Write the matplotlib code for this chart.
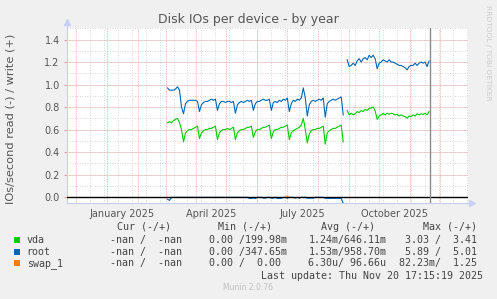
import numpy as np
import pandas as pd
import matplotlib
matplotlib.use("Agg")
import matplotlib.pyplot as plt

# ---- data (IOs/second, daily-ish samples) ----
seg1_start = "2025-03-03"
seg2_start = "2025-08-30"

root_write_1 = [
    0.97, 0.95, 0.95, 0.95, 0.96, 0.98, 0.95, 0.80, 0.74, 0.83,
    0.85, 0.86, 0.86, 0.86, 0.86, 0.85, 0.76, 0.82, 0.84, 0.85,
    0.85, 0.86, 0.87, 0.86, 0.87, 0.77, 0.83, 0.85, 0.85, 0.84,
    0.85, 0.85, 0.84, 0.85, 0.745, 0.82, 0.84, 0.85, 0.84, 0.85,
    0.86, 0.85, 0.86, 0.77, 0.83, 0.85, 0.85, 0.86, 0.87, 0.86,
    0.86, 0.87, 0.77, 0.84, 0.85, 0.84, 0.86, 0.85, 0.87, 0.86,
    0.88, 0.76, 0.83, 0.86, 0.85, 0.87, 0.86, 0.88, 0.97, 0.88,
    0.72, 0.82, 0.85, 0.86, 0.85, 0.86, 0.87, 0.86, 0.88, 0.71,
    0.83, 0.85, 0.86, 0.87, 0.86, 0.87, 0.88, 0.89, 0.73,
]
vda_write_1 = [
    0.66, 0.67, 0.66, 0.68, 0.69, 0.70, 0.66, 0.60, 0.49, 0.57,
    0.59, 0.60, 0.60, 0.61, 0.62, 0.63, 0.52, 0.57, 0.59, 0.60,
    0.60, 0.61, 0.61, 0.62, 0.63, 0.51, 0.57, 0.59, 0.60, 0.60,
    0.61, 0.60, 0.61, 0.62, 0.51, 0.57, 0.59, 0.60, 0.60, 0.61,
    0.62, 0.62, 0.63, 0.53, 0.58, 0.60, 0.60, 0.61, 0.62, 0.62,
    0.63, 0.64, 0.52, 0.58, 0.60, 0.60, 0.61, 0.62, 0.62, 0.63,
    0.64, 0.51, 0.57, 0.59, 0.60, 0.61, 0.62, 0.64, 0.70, 0.60,
    0.48, 0.56, 0.59, 0.60, 0.60, 0.61, 0.61, 0.62, 0.63, 0.47,
    0.57, 0.59, 0.60, 0.61, 0.61, 0.62, 0.63, 0.64, 0.49,
]
root_read_1 = [
    0.02, 0.03, 0.004, 0.003, 0.003, 0.003, 0.003, 0.003, 0.003, 0.003,
    0.003, 0.003, 0.003, 0.003, 0.003, 0.003, 0.003, 0.003, 0.003, 0.003,
    0.003, 0.003, 0.003, 0.003, 0.003, 0.003, 0.003, 0.003, 0.003, 0.003,
    0.003, 0.003, 0.003, 0.003, 0.003, 0.003, 0.003, 0.003, 0.003, 0.003,
    0.003, 0.012, 0.012, 0.010, 0.012, 0.003, 0.003, 0.003, 0.010, 0.010,
    0.003, 0.003, 0.010, 0.010, 0.003, 0.012, 0.012, 0.012, 0.003, 0.003,
    0.010, 0.003, 0.003, 0.003, 0.010, 0.003, 0.010, 0.003, 0.003, 0.003,
    0.010, 0.010, 0.010, 0.010, 0.003, 0.003, 0.003, 0.003, 0.003, 0.012,
    0.012, 0.012, 0.012, 0.012, 0.012, 0.012, 0.012, 0.012, 0.055,
]
# swap only shows one tiny blip in July
swap_dates = ["2025-06-30", "2025-07-01", "2025-07-02"]
swap_write = [0.006, 0.008, 0.006]

root_write_2 = [
    1.22, 1.16, 1.17, 1.19, 1.17, 1.21, 1.23, 1.20, 1.23, 1.24,
    1.22, 1.26, 1.24, 1.26, 1.23, 1.14, 1.19, 1.20, 1.22, 1.21,
    1.20, 1.22, 1.20, 1.20, 1.19, 1.18, 1.17, 1.17, 1.16, 1.15,
    1.13, 1.16, 1.17, 1.17, 1.19, 1.17, 1.19, 1.20, 1.19, 1.20,
    1.16, 1.21,
]
vda_write_2 = [
    0.77, 0.73, 0.745, 0.73, 0.74, 0.76, 0.75, 0.77, 0.76, 0.78,
    0.77, 0.79, 0.79, 0.80, 0.765, 0.69, 0.72, 0.73, 0.745, 0.73,
    0.745, 0.735, 0.745, 0.74, 0.73, 0.735, 0.72, 0.73, 0.72, 0.715,
    0.70, 0.72, 0.715, 0.73, 0.72, 0.74, 0.73, 0.74, 0.735, 0.745,
    0.73, 0.76,
]

legend_names = ["vda", "root", "swap_1"]
legend_colors = ["#00cc00", "#0066b3", "#ff8000"]
legend_cur = ["-nan /  -nan", "-nan /  -nan", "-nan /  -nan"]
legend_min = ["0.00 /199.98m", "0.00 /347.65m", "0.00 /  0.00"]
legend_avg = ["1.24m/646.11m", "1.53m/958.70m", "6.30u/ 96.66u"]
legend_max = ["3.03 /  3.41", "5.89 /  5.01", "82.23m/  1.25"]
y_ticks = [0.0, 0.2, 0.4, 0.6, 0.8, 1.0, 1.2, 1.4]
x_labels = ["January 2025", "April 2025", "July 2025", "October 2025"]
x_label_dates = ["2025-01-16", "2025-04-16", "2025-07-16", "2025-10-16"]
last_update = "2025-11-20 17:15:19"

W, H = 497, 299
fig = plt.figure(figsize=(W / 100, H / 100), dpi=100, facecolor="#f0f0f0")


def fx(x):
    return x / W


def fy(y):
    return 1 - y / H


left_px, right_px, top_px, bot_px = 66.7, 468.0, 28.3, 203.3
ax = fig.add_axes([fx(left_px), fy(bot_px), fx(right_px - left_px), (bot_px - top_px) / H])
ax.set_facecolor("white")

xmin, xmax = pd.Timestamp("2024-11-22"), pd.Timestamp("2025-12-29")
ax.set_xlim(xmin, xmax)
ax.set_ylim(-0.056, 1.5)

# grid: minor grey (2 weeks / 0.1), major pink (month / 0.2)
for d in pd.date_range("2024-12-15", xmax, freq="14D"):
    ax.axvline(d, color="#c8c8c8", lw=0.6, ls=(0, (1, 2)), zorder=1)
for v in np.arange(-0.0, 1.51, 0.1):
    ax.axhline(v, color="#c8c8c8", lw=0.6, ls=(0, (1, 2)), zorder=1)
for d in pd.date_range("2024-12-01", xmax, freq="MS"):
    ax.axvline(d, color="#eeaaaa", lw=0.6, ls=(0, (1, 1)), zorder=2)
for v in y_ticks:
    ax.axhline(v, color="#eeaaaa", lw=0.6, ls=(0, (1, 1)), zorder=2)

d1 = pd.date_range(seg1_start, periods=len(root_write_1), freq="2D")
d2 = pd.date_range(seg2_start, periods=len(root_write_2), freq="2D")

lw = 0.8
ax.plot(d1, vda_write_1, color=legend_colors[0], lw=lw, zorder=4)
ax.plot(d2, vda_write_2, color=legend_colors[0], lw=lw, zorder=4)
ax.plot(d1, root_write_1, color=legend_colors[1], lw=lw, zorder=4)
ax.plot(d2, root_write_2, color=legend_colors[1], lw=lw, zorder=4)
ax.plot(d1, -np.array(root_read_1), color=legend_colors[1], lw=lw, zorder=4)
ax.plot(pd.to_datetime(swap_dates), swap_write, color=legend_colors[2], lw=lw, zorder=6)

ax.axhline(0, color="black", lw=1.0, zorder=5)
ax.axvline(pd.Timestamp(last_update), color="#8a8a8a", lw=1.0, zorder=5)

# axes and ticks
for s in ["top", "right"]:
    ax.spines[s].set_visible(False)
axis_col = "#c8d0f4"
ax.spines["left"].set_color(axis_col)
ax.spines["bottom"].set_color(axis_col)
ax.plot([xmin], [1.56], marker="^", color=axis_col, ms=4, clip_on=False, zorder=6)
ax.plot([xmin, pd.Timestamp("2026-01-02")], [-0.056, -0.056], color=axis_col, lw=0.8, clip_on=False)
ax.plot([pd.Timestamp("2026-01-02")], [-0.056], marker=">", color=axis_col, ms=4, clip_on=False)
ax.plot([xmin, xmin], [1.5, 1.56], color=axis_col, lw=0.8, clip_on=False)

ax.set_yticks(y_ticks)
ax.set_yticklabels([f"{v:.1f}" for v in y_ticks])
ax.tick_params(axis="y", length=2, color="#e0a0a0", pad=3, labelsize=7, labelcolor="#555555")
ax.set_xticks(pd.to_datetime(x_label_dates))
ax.set_xticklabels(x_labels)
ax.tick_params(axis="x", length=0, pad=4, labelsize=7, labelcolor="#555555")

fig.text(fx(248), fy(19), "Disk IOs per device - by year", ha="center", va="center",
         fontsize=9, color="#555555")
fig.text(fx(11), fy(119), "IOs/second read (-) / write (+)", rotation=90, ha="center",
         va="center", fontsize=8.2, color="#555555")
fig.text(fx(488), fy(53), "RRDTOOL / TOBI OETIKER", rotation=270, ha="center", va="center",
         fontsize=5.4, color="#cccccc")

# legend block
mono = dict(family="DejaVu Sans Mono", fontsize=7.2, color="#444444", va="center")
for x, t in zip([116.7, 218.3, 320.7, 422.7], ["Cur (-/+)", "Min (-/+)", "Avg (-/+)", "Max (-/+)"]):
    fig.text(fx(x), fy(226.7), t, ha="left", **mono)
for i, y in enumerate([240.0, 251.7, 263.3]):
    fig.patches.append(plt.Rectangle((fx(14), fy(y + 3)), 6 / W, 6 / H, transform=fig.transFigure,
                                     facecolor=legend_colors[i], edgecolor="none"))
    fig.text(fx(26.7), fy(y), legend_names[i], ha="left", **mono)
    fig.text(fx(110), fy(y), legend_cur[i], ha="left", **mono)
    fig.text(fx(209.3), fy(y), legend_min[i], ha="left", **mono)
    fig.text(fx(308.3), fy(y), legend_avg[i], ha="left", **mono)
    fig.text(fx(476.7), fy(y), legend_max[i], ha="right", **mono)
ts = pd.Timestamp(last_update)
fig.text(fx(482.7), fy(275.7), "Last update: " + ts.strftime("%a %b %d %H:%M:%S %Y"), ha="right", **mono)
fig.text(fx(248), fy(288), "Munin 2.0.76", ha="center", va="center", fontsize=5.5, color="#c0c0c0")

fig.savefig("out.png", dpi=100, facecolor="#f0f0f0")
